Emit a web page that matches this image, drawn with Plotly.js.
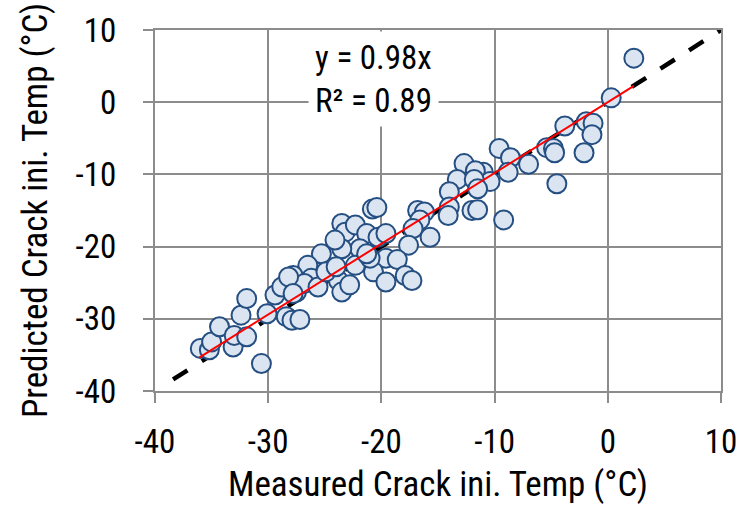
<!DOCTYPE html>
<html>
<head>
<meta charset="utf-8">
<script src="https://cdn.plot.ly/plotly-3.0.1.min.js"></script>
<style>
  html, body { margin: 0; padding: 0; background: #ffffff; }
  #chart { width: 749px; height: 507px; }
</style>
</head>
<body>
<div id="chart"></div>
<script>
// Measured vs predicted crack initiation temperatures (°C)
const measured = [
  2.3, 0.3, -3.8, -1.9, -1.3, -1.4, -2.1, -5.4, -4.8, -4.7,
  -7.0, -4.5, -9.6, -8.6, -8.8, -12.7, -11.0, -11.7, -10.4, -13.3,
  -11.8, -11.5, -14.0, -9.2, -12.0, -11.5, -14.0, -14.1, -16.8, -16.2,
  -16.6, -17.2, -15.7, -17.6, -20.8, -20.4, -19.6, -18.6, -23.5, -23.2,
  -22.3, -21.3, -20.3, -19.6, -21.9, -23.5, -25.3, -26.5, -24.4, -26.2,
  -23.8, -23.5, -22.8, -20.7, -17.9, -17.3, -19.6, -22.3, -21.0, -27.8,
  -27.5, -26.8, -24.1, -21.3, -30.6, -36.0, -35.2, -35.0, -33.1, -34.3,
  -33.0, -31.9, -32.4, -31.9, -30.1, -29.4, -28.8, -28.2, -27.8, -28.4,
  -27.9, -27.2, -25.6, -24.9, -24.0
];
const predicted = [
  6.1, 0.6, -3.3, -2.7, -2.9, -4.5, -7.0, -6.3, -6.4, -7.0,
  -8.6, -11.3, -6.4, -7.7, -9.7, -8.5, -9.7, -9.5, -11.0, -10.7,
  -10.7, -12.0, -12.4, -16.3, -15.0, -14.9, -14.5, -15.7, -15.0, -15.2,
  -16.3, -17.5, -18.7, -19.8, -14.8, -14.6, -21.6, -21.8, -16.8, -18.0,
  -17.0, -18.2, -18.7, -18.2, -20.3, -20.3, -21.0, -22.6, -23.5, -24.4,
  -24.7, -26.3, -25.3, -23.5, -24.0, -24.7, -24.9, -22.6, -21.6, -24.0,
  -26.3, -25.1, -19.1, -21.0, -36.2, -34.1, -34.3, -33.2, -33.9, -31.1,
  -32.3, -32.5, -29.5, -27.2, -29.3, -26.7, -25.6, -24.2, -26.5, -29.7,
  -30.2, -30.1, -25.6, -23.5, -22.8
];

// Fitted trendline through the origin and the 1:1 reference line
const fitSlope = 0.98;
const fitRange = [-36.1, 2.3];
const fitLabel = "y = 0.98x";
const r2Label = "R² = 0.89";
const equalityRange = [-38.4, 10];

const axisTicks = [-40, -30, -20, -10, 0, 10];

const FONT = "'Liberation Sans Narrow', 'Arial Narrow', 'Roboto Condensed', 'Liberation Sans', sans-serif";
const GRID = "#8c8c8c";

const traces = [
  {
    x: equalityRange,
    y: equalityRange,
    mode: "lines",
    line: { color: "#000000", width: 4.5, dash: "17px,17px" },
    hoverinfo: "skip",
    showlegend: false
  },
  {
    x: measured,
    y: predicted,
    mode: "markers",
    marker: {
      size: 19,
      color: "#dbe5f1",
      line: { color: "#254f82", width: 2 }
    },
    showlegend: false
  },
  {
    x: fitRange,
    y: fitRange.map(v => fitSlope * v),
    mode: "lines",
    line: { color: "#ff0000", width: 2 },
    hoverinfo: "skip",
    showlegend: false
  }
];

const axisCommon = {
  range: [-40, 10],
  tickvals: axisTicks,
  ticktext: axisTicks.map(String),
  showgrid: true,
  gridcolor: GRID,
  gridwidth: 2,
  zeroline: false,
  showline: true,
  linecolor: GRID,
  linewidth: 2,
  mirror: true,
  ticks: "outside",
  ticklen: 10,
  tickwidth: 2,
  tickcolor: GRID,
  tickfont: { family: FONT, size: 33, color: "#000000" },
  automargin: false,
  fixedrange: true
};

const layout = {
  width: 749,
  height: 507,
  margin: { l: 155, r: 28, t: 30, b: 116 },
  paper_bgcolor: "#ffffff",
  plot_bgcolor: "#ffffff",
  font: { family: FONT, color: "#000000" },
  xaxis: Object.assign({}, axisCommon, {
    ticklabelstandoff: 10,
    title: {
      text: "Measured Crack ini. Temp (°C)",
      font: { family: FONT, size: 35, color: "#000000" },
      standoff: 12
    }
  }),
  yaxis: Object.assign({}, axisCommon, {
    ticklabelstandoff: 20,
    title: {
      text: "Predicted Crack ini. Temp (°C)",
      font: { family: FONT, size: 35, color: "#000000" },
      standoff: 17
    }
  }),
  annotations: [
    {
      x: -20.7,
      y: 3.2,
      xref: "x",
      yref: "y",
      text: fitLabel + "<br>" + r2Label,
      showarrow: false,
      font: { family: FONT, size: 33, color: "#000000" },
      bgcolor: "#ffffff",
      borderpad: 6,
      xanchor: "center",
      yanchor: "middle"
    }
  ],
  showlegend: false
};

Plotly.newPlot("chart", traces, layout, { displayModeBar: false, staticPlot: true });
</script>
</body>
</html>
